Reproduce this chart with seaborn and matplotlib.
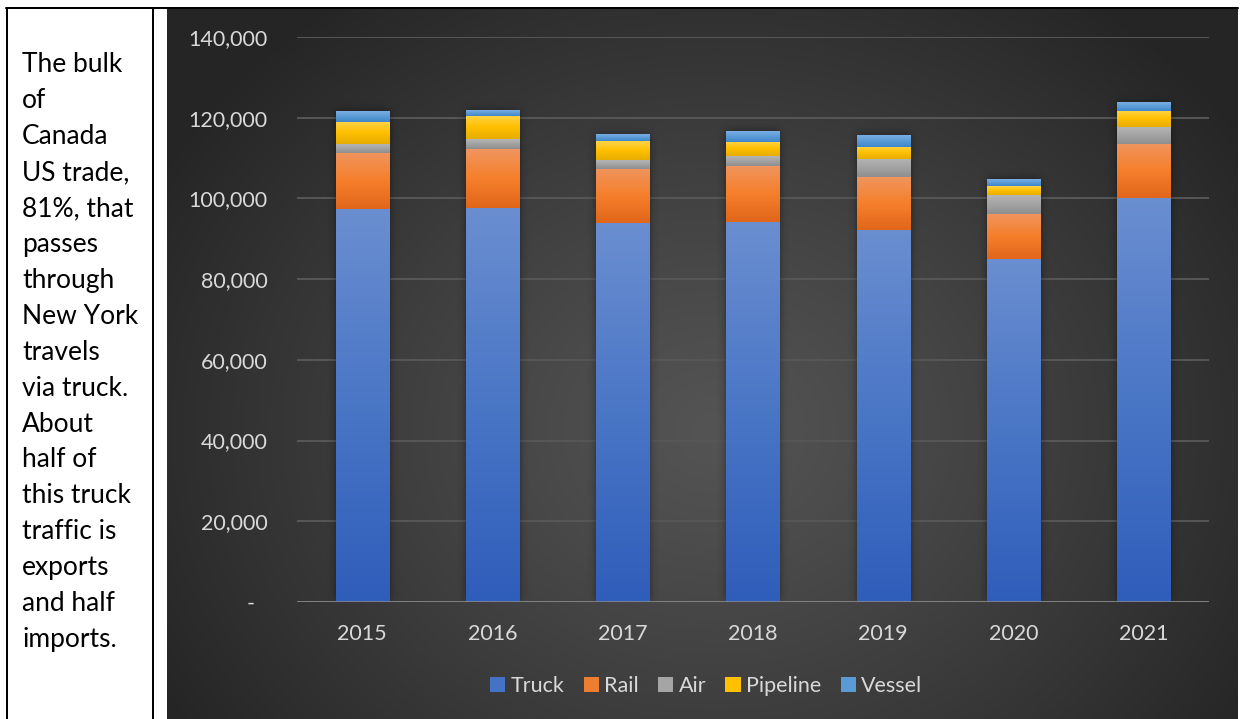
import numpy as np
import seaborn as sns
import matplotlib.pyplot as plt
from matplotlib.lines import Line2D
from matplotlib.patches import Patch
from matplotlib.colors import to_rgb
from matplotlib.ticker import FuncFormatter, MultipleLocator

# ---- data: Canada-US trade through New York by mode (value per year) ----
years = ["2015", "2016", "2017", "2018", "2019", "2020", "2021"]
truck = [97400, 97700, 93900, 94200, 92200, 85000, 100100]
rail = [13900, 14600, 13400, 13900, 13100, 11200, 13400]
air = [2200, 2400, 2200, 2400, 4500, 4700, 4200]
pipeline = [5500, 5700, 4700, 3500, 3000, 2200, 4000]
vessel = [2700, 1300, 1500, 2700, 2900, 1700, 2000]
modes = ["Truck", "Rail", "Air", "Pipeline", "Vessel"]

note_lines = ["The bulk", "of", "Canada", "US trade,", "81%, that", "passes",
              "through", "New York", "travels", "via truck.", "About",
              "half of", "this truck", "traffic is", "exports", "and half",
              "imports."]

# Office palette with light-top / dark-bottom gradient stops
base_colors = ["#4472C4", "#ED7D31", "#A5A5A5", "#FFC000", "#5B9BD5"]
grad_stops = [
    ("#6A8ED0", "#4A76C6", "#2F5DBA"),
    ("#F0955F", "#F57F2B", "#E1661A"),
    ("#B5B5B5", "#A3A3A3", "#8E8E8E"),
    ("#FFD44A", "#FFC000", "#E6AC00"),
    ("#79AEE3", "#5B9BD5", "#3E86CB"),
]

sns.set_theme(style="white")
plt.rcParams["font.family"] = ["Lato", "DejaVu Sans"]

W, H = 1252, 719
fig = plt.figure(figsize=(W / 100, H / 100), dpi=100)
fig.patch.set_facecolor("white")

# ---- dark radial-gradient chart panel ----
px0, px1, py0 = 167, 1238, 9
bg = fig.add_axes([px0 / W, 0, (px1 - px0) / W, (H - py0) / H])
xs = np.arange(px0, px1)[None, :]
ys = np.arange(py0, H)[:, None]
d = np.sqrt(((xs - 715) / 640.0) ** 2 + ((ys - 430) / 540.0) ** 2)
d = np.clip(d, 0, 1)
level = (84 - (84 - 37) * d ** 1.15) / 255.0
bg.imshow(np.dstack([level] * 3), aspect="auto", extent=(0, 1, 0, 1),
          interpolation="bilinear")
bg.set_axis_off()
bg.set_zorder(0)

# ---- main axes ----
ax = fig.add_axes([297 / W, (H - 602) / H, 912 / W, 565 / H])
ax.set_zorder(1)
ax.patch.set_alpha(0)

series = [truck, rail, air, pipeline, vessel]
cum = np.cumsum(np.array(series, dtype=float), axis=0)
bar_w = 0.407

# stacked bars: draw cumulative totals from the top layer down
layer_patches = {}
for i in reversed(range(len(modes))):
    n0 = len(ax.patches)
    sns.barplot(x=years, y=cum[i], color=base_colors[i], width=bar_w,
                saturation=1, errorbar=None, ax=ax, zorder=2,
                edgecolor="none", linewidth=0)
    layer_patches[i] = ax.patches[n0:]

# soft shadow behind each full bar
for j, p in enumerate(layer_patches[len(modes) - 1]):
    x0, w = p.get_x(), p.get_width()
    top = cum[-1][j]
    ex, ey = 0.07, 2600
    gx = np.linspace(x0 - ex, x0 + w + ex, 80)
    gy = np.linspace(-ey, top + ey, 200)
    fx = 1 / (1 + np.exp(-(gx - x0) / 0.018)) * 1 / (1 + np.exp((gx - x0 - w) / 0.018))
    fy = 1 / (1 + np.exp(-(gy - 0) / 650)) * 1 / (1 + np.exp((gy - top) / 650))
    alpha = 0.55 * np.outer(fy[::-1], fx)
    rgba = np.zeros(alpha.shape + (4,))
    rgba[..., 3] = alpha
    ax.imshow(rgba, extent=(x0 - ex, x0 + w + ex, -ey, top + ey),
              aspect="auto", zorder=1.5, interpolation="bilinear")

# vertical gradient fill on every visible segment
for i in range(len(modes)):
    c_top, c_mid, c_bot = (np.array(to_rgb(c)) for c in grad_stops[i])
    t = np.linspace(0, 1, 128)[:, None]
    g = np.where(t < 0.5,
                 c_top + (c_mid - c_top) * (t / 0.5),
                 c_mid + (c_bot - c_mid) * ((t - 0.5) / 0.5))
    g = g[:, None, :]
    for j, p in enumerate(layer_patches[i]):
        x0, w = p.get_x(), p.get_width()
        lo = cum[i - 1][j] if i > 0 else 0.0
        hi = cum[i][j]
        ax.imshow(g, extent=(x0, x0 + w, lo, hi), aspect="auto",
                  zorder=3, interpolation="bilinear")

# axes styling
ax.set_xlim(-0.5, len(years) - 0.5)
ax.set_ylim(0, 140000)
ax.yaxis.set_major_locator(MultipleLocator(20000))
ax.yaxis.set_major_formatter(
    FuncFormatter(lambda v, _: "-" if v == 0 else f"{int(v):,}"))
ax.grid(axis="y", color="#575757", linewidth=1.4, zorder=1)
ax.grid(axis="x", visible=False)
ax.set_axisbelow(True)
for s in ax.spines.values():
    s.set_visible(False)
ax.axhline(0, color="#8E8E8E", linewidth=1.8, zorder=4)
ax.set_xlabel("")
ax.set_ylabel("")
ax.tick_params(axis="both", length=0, labelsize=15.5, labelcolor="#D9D9D9")
ax.tick_params(axis="y", pad=21)
ax.tick_params(axis="x", pad=15.5)
for lab in ax.get_yticklabels():
    if lab.get_text() == "-":
        lab.set_x(-0.015)

# legend
handles = [Patch(facecolor=c, edgecolor="none") for c in base_colors]
fig.legend(handles, modes, loc="center", bbox_to_anchor=(706 / W, 1 - 686 / H),
           ncol=5, frameon=False, fontsize=15.5, labelcolor="#D9D9D9",
           handlelength=0.7, handleheight=0.7, handletextpad=0.25,
           columnspacing=0.9)

# table borders
lw = 1.45
fig.add_artist(Line2D([6 / W, px1 / W], [1 - 7.7 / H, 1 - 7.7 / H],
                      color="black", linewidth=lw))
fig.add_artist(Line2D([7 / W, 7 / W], [0, 1 - 7.7 / H], color="black", linewidth=lw))
fig.add_artist(Line2D([153 / W, 153 / W], [0, 1 - 7.7 / H], color="black", linewidth=lw))

# side note
for k, line in enumerate(note_lines):
    yb = 72.5 + k * 35.9
    fig.text(22 / W, 1 - yb / H, line, fontsize=19, color="black",
             ha="left", va="baseline")

fig.savefig("out.png", dpi=100, facecolor="white")
